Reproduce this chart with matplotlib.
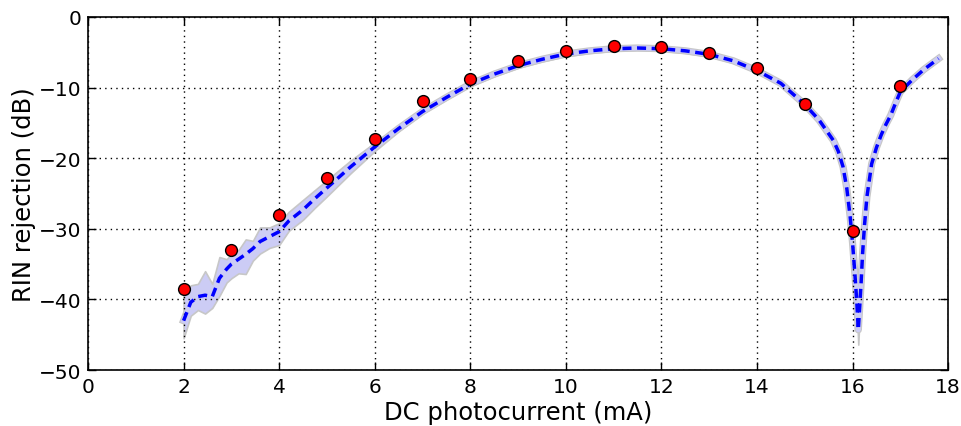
import matplotlib
matplotlib.use('Agg')
import matplotlib.pyplot as plt

# measured points (red dots)
meas_i = [2, 3, 4, 5, 6, 7, 8, 9, 10, 11, 12, 13, 14, 15, 16, 17]
meas_rin = [-38.5, -33.0, -28.0, -22.8, -17.3, -11.9, -8.8, -6.2, -4.8, -4.1,
            -4.2, -5.1, -7.2, -12.3, -30.3, -9.8]

# model curve and its uncertainty band
model_i = [2.0, 2.15, 2.3, 2.45, 2.6, 2.75, 2.9, 3.0, 3.15, 3.3, 3.45, 3.6, 3.8,
           4.0, 4.2, 4.5, 4.75, 5.0, 5.5, 6.0, 6.5, 7.0, 7.5, 8.0, 8.5, 9.0,
           9.5, 10.0, 10.5, 11.0, 11.5, 12.0, 12.5, 13.0, 13.5, 14.0, 14.5,
           15.0, 15.3, 15.6, 15.7, 15.8, 15.88, 15.95, 16.0, 16.05, 16.09,
           16.12, 16.15, 16.18, 16.21, 16.25, 16.3, 16.4, 16.5, 16.6, 16.7,
           16.8, 16.9, 17.0, 17.25, 17.5, 17.8]
model_rin = [-43.0, -40.4, -39.6, -39.4, -39.6, -37.0, -35.7, -35.0, -34.3,
             -33.6, -32.8, -31.8, -31.1, -30.4, -28.9, -27.3, -25.7, -24.2,
             -21.2, -18.4, -15.8, -13.4, -11.4, -9.5, -8.1, -6.9, -6.0, -5.25,
             -4.8, -4.5, -4.4, -4.5, -4.8, -5.3, -6.2, -7.6, -9.4, -12.4,
             -14.6, -17.5, -19.0, -21.2, -24.3, -28.3, -32.0, -36.5, -40.5,
             -44.3, -41.0, -37.5, -33.5, -29.5, -25.5, -20.8, -18.5, -16.7,
             -15.2, -13.9, -12.2, -10.6, -8.9, -7.4, -5.9]
band_up = [3.5, 2.4, 1.8, 3.4, 1.8, 3.0, 1.4, 1.4, 1.3, 2.1, 1.1, 2.0, 1.3,
           1.2, 1.3, 1.4, 1.2, 1.1, 0.9, 0.6, 0.4, 0.3, 0.3, 0.3, 0.3, 0.3,
           0.3, 0.3, 0.3, 0.3, 0.3, 0.3, 0.3, 0.3, 0.3, 0.3, 0.3, 0.3, 0.3,
           0.3, 0.3, 0.3, 0.3, 0.3, 0.3, 0.3, 0.3, 0.3, 0.3, 0.3, 0.3, 0.3,
           0.3, 0.3, 0.3, 0.3, 0.3, 0.3, 0.3, 0.3, 0.3, 0.3, 0.3]
band_dn = [2.5, 1.9, 1.9, 2.6, 1.6, 2.5, 1.9, 2.0, 2.0, 2.8, 1.7, 1.7, 1.6,
           1.9, 1.4, 1.4, 1.3, 1.2, 0.9, 0.6, 0.4, 0.3, 0.3, 0.3, 0.3, 0.3,
           0.3, 0.3, 0.3, 0.3, 0.3, 0.3, 0.3, 0.3, 0.3, 0.3, 0.3, 0.3, 0.3,
           0.3, 0.3, 0.3, 0.3, 0.3, 0.3, 0.3, 0.8, 2.1, 0.8, 0.3, 0.3, 0.3,
           0.3, 0.3, 0.3, 0.3, 0.3, 0.3, 0.3, 0.3, 0.3, 0.3, 0.3]

lav = (0.80, 0.80, 0.96)
grey = (0.78, 0.78, 0.78)

upper = [m + u for m, u in zip(model_rin, band_up)]
lower = [m - d for m, d in zip(model_rin, band_dn)]

fig = plt.figure(figsize=(9.61, 4.27), dpi=100)
ax = fig.add_axes([0.0916, 0.131, 0.895, 0.827])

ax.plot(model_i, model_rin, color=grey, lw=5.2, zorder=1)
ax.fill_between(model_i, lower, upper, facecolor=lav, edgecolor=grey,
                lw=1.2, zorder=1.1)
ax.plot(model_i, model_rin, color=lav, lw=3.6, zorder=1.2)
ax.plot(model_i, model_rin, color='b', lw=2.5, ls=(0, (2.6, 1.6)), zorder=2)
ax.plot(meas_i, meas_rin, 'o', color='r', mec='k', mew=1.0, ms=8.5, zorder=3)

ax.set_xlim(0, 18)
ax.set_ylim(-50, 0)
ax.set_xticks(range(0, 19, 2))
ax.set_yticks(range(-50, 1, 10))
ax.grid(True, color='k', ls=(0, (1, 3)), lw=1.0)
ax.tick_params(direction='in', top=True, right=True, length=6, width=1,
               labelsize=14.5, pad=5)
for s in ax.spines.values():
    s.set_linewidth(1.2)
ax.set_xlabel('DC photocurrent (mA)', fontsize=17.5, labelpad=3)
ax.set_ylabel('RIN rejection (dB)', fontsize=17.5, labelpad=2)

fig.savefig('out.png', dpi=100)
